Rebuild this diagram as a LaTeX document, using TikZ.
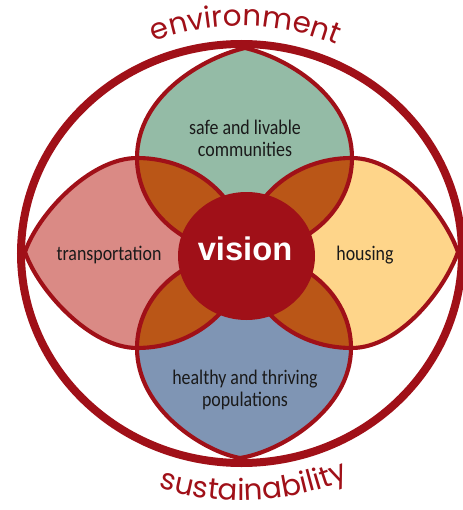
\documentclass[tikz,border=0pt]{standalone}
\usepackage{fontspec}
\usetikzlibrary{decorations.text}
\newfontfamily\arcfont{Poppins}
\newfontfamily\lblfont[FakeStretch=0.86]{Carlito}
\newfontfamily\visfont{Liberation Sans}
\newcommand\arctextfont{\arcfont\fontsize{22}{26}\selectfont}
\definecolor{ringred}{HTML}{A01018}
\definecolor{greenfill}{HTML}{94BBA6}
\definecolor{pinkfill}{HTML}{DA8A85}
\definecolor{yellowfill}{HTML}{FED58A}
\definecolor{bluefill}{HTML}{7F95B4}
\definecolor{orangefill}{HTML}{BA5617}
\definecolor{labelink}{HTML}{1A1A1A}
\def\greenpath{(137,-158) .. controls (137,-95) and (205,-57) .. (245,-48) .. controls (285,-57) and (352,-95) .. (352,-158) arc[start angle=0, end angle=-180, x radius=107.5, y radius=95] -- cycle}
\def\bluepath{(137,-348) .. controls (137,-410) and (205,-452) .. (240,-458) .. controls (280,-452) and (351,-410) .. (351,-348) arc[start angle=0, end angle=180, x radius=107, y radius=95] -- cycle}
\def\transpath{(137,-158) arc[start angle=90, end angle=-90, x radius=107.5, y radius=95] .. controls (90,-348) and (38,-290) .. (25,-252) .. controls (38,-214) and (90,-158) .. (137,-158) -- cycle}
\def\housepath{(351.5,-348) arc[start angle=270, end angle=90, x radius=107, y radius=95] .. controls (400,-158) and (445,-215) .. (458,-252) .. controls (445,-289) and (400,-348) .. (351.5,-348) -- cycle}
\begin{document}
\begin{tikzpicture}[x=0.75pt,y=0.75pt,
  petal/.style={draw=ringred, line width=3.1pt, line join=round},
  lbl/.style={font=\lblfont\fontsize{15.6}{16.5}\selectfont, text=labelink, inner sep=0pt},
  visionlbl/.style={font=\visfont\bfseries\fontsize{24.5}{28}\selectfont, text=white, inner sep=0pt},
  arctext/.style={decorate, decoration={text along path, text align=center, text color=ringred}}]
\useasboundingbox (0,0) rectangle (463,-510);
% petal fills
\fill[greenfill] \greenpath;
\fill[bluefill] \bluepath;
\fill[pinkfill] \transpath;
\fill[yellowfill] \housepath;
% overlaps
\begin{scope}
  \clip \greenpath;
  \fill[orangefill] \transpath;
  \fill[orangefill] \housepath;
\end{scope}
\begin{scope}
  \clip \bluepath;
  \fill[orangefill] \transpath;
  \fill[orangefill] \housepath;
\end{scope}
% outlines
\draw[petal] \greenpath;
\draw[petal] \bluepath;
\draw[petal] \transpath;
\draw[petal] \housepath;
% vision
\fill[ringred] (246.5,-256) ellipse[x radius=68.5, y radius=64];
% outer ring
\draw[ringred, line width=6pt] (241.5,-253.5) ellipse[x radius=220.5, y radius=209.5];
% labels
\node[lbl, align=center] (safe) at (245,-138) {safe and livable\\communities};
\node[lbl, anchor=base] (transport) at (109,-260) {transportation};
\node[lbl, anchor=base] (housing) at (365,-260) {housing};
\node[lbl, align=center] (healthy) at (245,-390) {healthy and thriving\\populations};
\node[visionlbl, anchor=base] (vision) at (245,-260) {vision};
% arc texts
\path[arctext, decoration={text={|\arctextfont|environment}}]
  ([shift={(241.5,-253.5)}]139:239 and 227.5) arc[start angle=139, end angle=39, x radius=239, y radius=227.5];
\path[arctext, decoration={text={|\arctextfont|sustainability}}]
  ([shift={(241.5,-253.5)}]223:261 and 247) arc[start angle=223, end angle=323, x radius=261, y radius=247];
\end{tikzpicture}
\end{document}
